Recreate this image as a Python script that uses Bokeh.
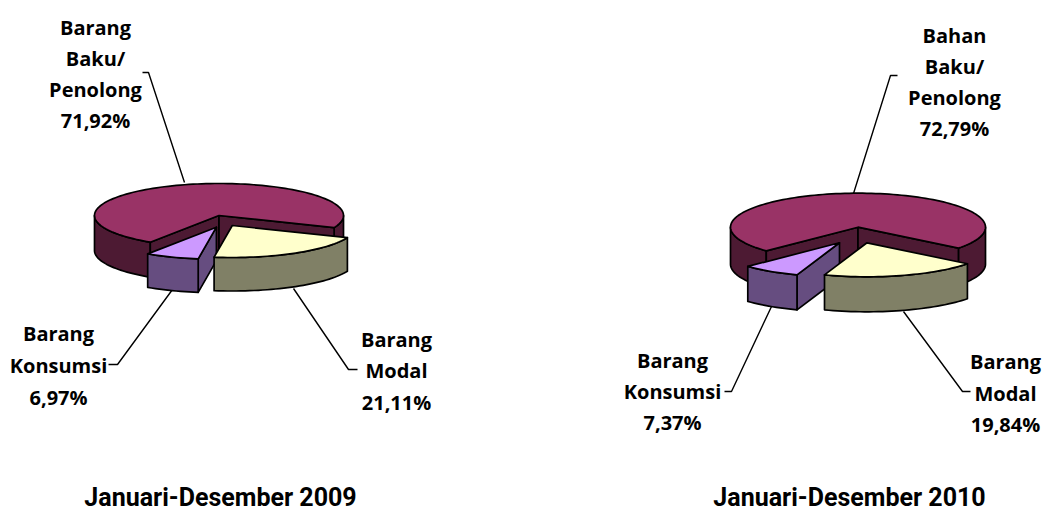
import math
from bokeh.plotting import figure
from bokeh.core.properties import value
from bokeh.embed import file_html
from bokeh.resources import INLINE

# --- data ---
shares_2009 = [71.92, 21.11, 6.97]
shares_2010 = [72.79, 19.84, 7.37]
label_lines_2009 = [["Barang", "Baku/", "Penolong", "71,92%"], ["Barang", "Modal", "21,11%"], ["Barang", "Konsumsi", "6,97%"]]
label_lines_2010 = [["Bahan", "Baku/", "Penolong", "72,79%"], ["Barang", "Modal", "19,84%"], ["Barang", "Konsumsi", "7,37%"]]
title_2009 = "Januari-Desember 2009"
title_2010 = "Januari-Desember 2010"

# --- styling / layout ---
TOP = ["#993366", "#FFFFCC", "#CC99FF"]
SIDE = ["#4D1A33", "#808066", "#664D80"]
LW = 1.7
FONT = "Open Sans"
TITLE_FONT = "Roboto"
FS = "20px"

layout_2009 = dict(cx=218.5, cy=215, rx=124.5, ry=32, depth=35, slice_depth=33.5, first=123.5,
                   offsets=[(0, 0), (13.3, 10), (-2.6, 11.7)],
                   label_x=[95, 396, 58], label_y=[[27, 58, 89, 120], [339, 370, 402], [333, 365, 397]],
                   leaders=[[(184, 182), (148, 72), (142, 72)],
                            [(293, 288), (348, 369), (357, 369)],
                            [(172, 289), (117, 364), (108, 364)]],
                   title_x=220)
layout_2010 = dict(cx=857.5, cy=226.7, rx=127.5, ry=34, depth=37, slice_depth=35, first=136.0,
                   offsets=[(0, 0), (9, 15.6), (-18.5, 15.6)],
                   label_x=[954, 1005, 672], label_y=[[35, 66, 97, 128], [361, 393, 424], [360, 391, 422]],
                   leaders=[[(853, 193), (890, 75), (897, 75)],
                            [(903, 311), (962, 391), (970, 391)],
                            [(771, 306), (731, 391), (724, 391)]],
                   title_x=849)

p = figure(width=1043, height=511, x_range=(0, 1043), y_range=(511, 0),
           output_backend="svg", toolbar_location=None, min_border=0,
           outline_line_color=None, x_axis_type=None, y_axis_type=None)
p.grid.visible = False
p.background_fill_color = "white"


def pt(L, ang, off=(0, 0), down=0):
    a = math.radians(ang)
    return (L["cx"] + off[0] + L["rx"] * math.cos(a),
            L["cy"] + off[1] + L["ry"] * math.sin(a) + down)


def arc(L, a0, a1, off=(0, 0), down=0):
    n = max(2, int(abs(a1 - a0) / 2) + 1)
    return [pt(L, a0 + (a1 - a0) * i / (n - 1), off, down) for i in range(n)]


def poly(points, fill):
    p.patch([q[0] for q in points], [q[1] for q in points], fill_color=fill,
            line_color="black", line_width=LW, line_join="round")


def outer_wall(L, a0, a1, off, fill, d):
    # visible front part only (angles measured clockwise on screen from +x)
    for lo, hi in ((0, 180), (360, 540)):
        s, e = max(a0, lo), min(a1, hi)
        if e > s:
            poly(arc(L, s, e, off) + arc(L, e, s, off, d), fill)


def cut_face(L, ang, off, fill, d):
    c = (L["cx"] + off[0], L["cy"] + off[1])
    e = pt(L, ang, off)
    poly([c, e, (e[0], e[1] + d), (c[0], c[1] + d)], fill)


def draw_pie(shares, lines, title, L):
    # leaders sit behind the pie
    for leader in L["leaders"]:
        p.line([q[0] for q in leader], [q[1] for q in leader], line_color="black", line_width=1.4)

    spans = []
    a = L["first"]
    for s in shares:
        spans.append((a, a + s * 3.6))
        a += s * 3.6

    # main slice (maroon)
    a0, a1 = spans[0]
    off = L["offsets"][0]
    d = L["depth"]
    outer_wall(L, a0, a1, off, SIDE[0], d)
    cut_face(L, a0, off, SIDE[0], d)
    cut_face(L, a1, off, SIDE[0], d)
    poly([(L["cx"], L["cy"])] + arc(L, a0, a1, off), TOP[0])

    # last slice (purple) then middle slice (yellow), which overlaps it
    d = L["slice_depth"]
    for i in (2, 1):
        a0, a1 = [x % 360 for x in spans[i]]
        off = L["offsets"][i]
        if i == 2:
            cut_face(L, a0, off, SIDE[i], d)
        outer_wall(L, a0, a1, off, SIDE[i], d)
        poly([(L["cx"] + off[0], L["cy"] + off[1])] + arc(L, a0, a1, off), TOP[i])

    # texts
    for x, ys, ls in zip(L["label_x"], L["label_y"], lines):
        p.text([x] * len(ls), ys, text=ls, text_font=value(FONT), text_font_style="bold",
               text_font_size=FS, text_align="center", text_baseline="middle", text_color="black")
    p.text([L["title_x"]], [496.5], text=[title], text_font=value(TITLE_FONT), text_font_style="bold",
           text_font_size="25px", text_align="center", text_baseline="middle", text_color="black")


draw_pie(shares_2009, label_lines_2009, title_2009, layout_2009)
draw_pie(shares_2010, label_lines_2010, title_2010, layout_2010)

open("out.html", "w").write(file_html(p, INLINE))
